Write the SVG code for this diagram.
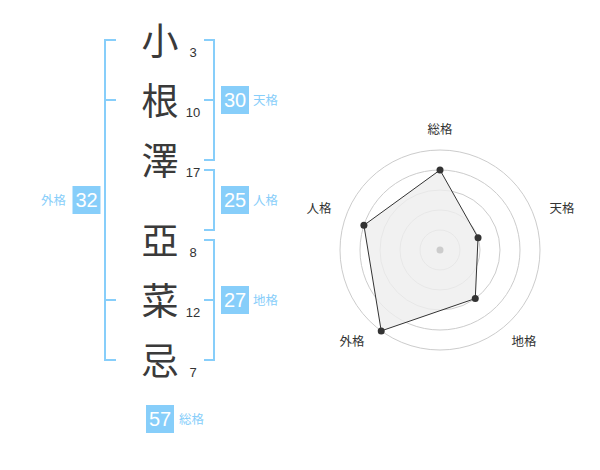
<svg xmlns="http://www.w3.org/2000/svg" width="600" height="470" viewBox="0 0 600 470">
<style>
.kanji{font-family:"Noto Sans CJK JP","Noto Sans CJK SC",sans-serif;font-size:37px;fill:#3a3a3a;text-anchor:middle}
.num{font-family:"Liberation Sans",Arial,sans-serif;font-size:13px;fill:#333;text-anchor:middle}
.br{fill:none;stroke:#87cefa;stroke-width:2}
.box{fill:#87cefa}
.bn{font-family:"Liberation Sans",Arial,sans-serif;font-size:20px;fill:#fff;text-anchor:middle}
.lbl{font-family:"Noto Sans CJK JP","Noto Sans CJK SC",sans-serif;font-size:12.5px;fill:#87cefa}
.rl{font-family:"Noto Sans CJK JP","Noto Sans CJK SC",sans-serif;font-size:12.5px;fill:#333;text-anchor:middle}
.ring{fill:none;stroke:#cccccc;stroke-width:1}
</style>
<rect width="600" height="470" fill="#fff"/>
<g id="name">
<text class="kanji" x="160" y="55">小</text>
<text class="kanji" x="160" y="115">根</text>
<text class="kanji" x="160" y="175">澤</text>
<text class="kanji" x="160" y="255">亞</text>
<text class="kanji" x="160" y="315">菜</text>
<text class="kanji" x="160" y="375">忌</text>
<text class="num" x="193" y="57">3</text>
<text class="num" x="193" y="117">10</text>
<text class="num" x="193" y="177">17</text>
<text class="num" x="193" y="257">8</text>
<text class="num" x="193" y="317">12</text>
<text class="num" x="193" y="377">7</text>
</g>
<g id="connectors">
<path class="br" d="M116,40 H105 V360 H116 M105,100 H116 M105,300 H116"/>
<path class="br" d="M204,40 H214 V160 H204 M204,100 H214"/>
<path class="br" d="M204,170 H214 V230 H204"/>
<path class="br" d="M204,240 H214 V360 H204 M204,300 H214"/>
</g>
<g id="tenkaku">
<rect class="box" x="221" y="86" width="28" height="28"/>
<text class="bn" x="235" y="107">30</text>
<text class="lbl" x="253" y="105">天格</text>
</g>
<g id="jinkaku">
<rect class="box" x="221" y="186" width="28" height="28"/>
<text class="bn" x="235" y="207">25</text>
<text class="lbl" x="253" y="205">人格</text>
</g>
<g id="chikaku">
<rect class="box" x="221" y="286" width="28" height="28"/>
<text class="bn" x="235" y="307">27</text>
<text class="lbl" x="253" y="305">地格</text>
</g>
<g id="gaikaku">
<rect class="box" x="72.5" y="186" width="28" height="28"/>
<text class="bn" x="86.5" y="207">32</text>
<text class="lbl" x="41" y="205">外格</text>
</g>
<g id="soukaku">
<rect class="box" x="146" y="405" width="28" height="28"/>
<text class="bn" x="160" y="426">57</text>
<text class="lbl" x="179" y="424">総格</text>
</g>
<g id="radar">
<circle class="ring" cx="440" cy="250" r="20"/>
<circle class="ring" cx="440" cy="250" r="40"/>
<circle class="ring" cx="440" cy="250" r="60"/>
<circle class="ring" cx="440" cy="250" r="80"/>
<circle class="ring" cx="440" cy="250" r="100"/>
<polygon points="440,170 478.04,237.64 475.27,298.54 381.22,330.9 363.91,225.28" fill="#eeeeee" fill-opacity="0.8" stroke="#333" stroke-width="1"/>
<circle cx="440" cy="250" r="3.5" fill="#cccccc"/>
<g fill="#333">
<circle cx="440" cy="170" r="3.5"/>
<circle cx="478.04" cy="237.64" r="3.5"/>
<circle cx="475.27" cy="298.54" r="3.5"/>
<circle cx="381.22" cy="330.9" r="3.5"/>
<circle cx="363.91" cy="225.28" r="3.5"/>
</g>
<text class="rl" x="440" y="134">総格</text>
<text class="rl" x="562" y="213">天格</text>
<text class="rl" x="524" y="346">地格</text>
<text class="rl" x="352" y="346">外格</text>
<text class="rl" x="319" y="213">人格</text>
</g>
</svg>
